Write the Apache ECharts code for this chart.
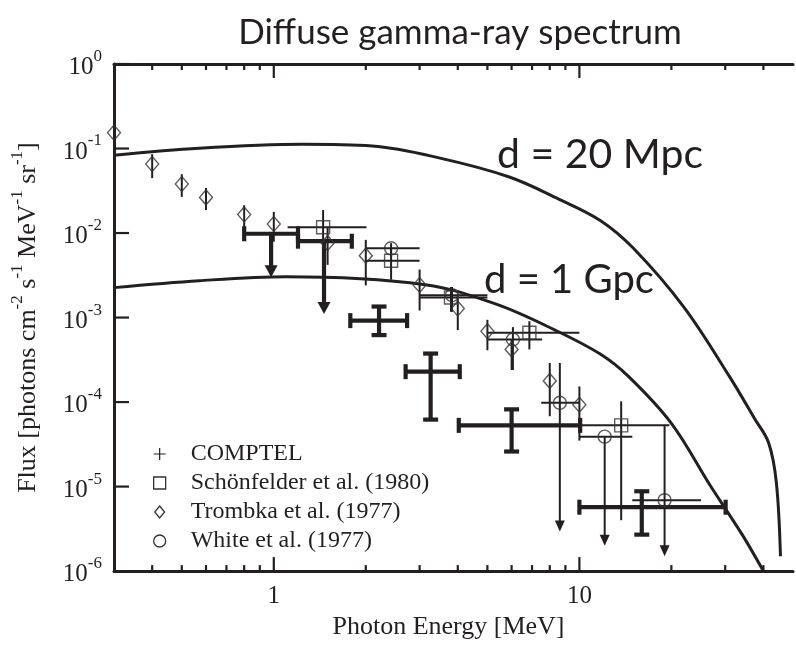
<!DOCTYPE html>
<html><head><meta charset="utf-8">
<script src="https://cdn.jsdelivr.net/npm/echarts@6/dist/echarts.min.js"></script>
<style>html,body{margin:0;padding:0;background:#fff}#c{width:796px;height:645px}</style>
</head><body><div id="c"></div>
<script>
// ---- data ----
const xMajorTicks = [1, 10];
const xMinorTicks = [0.4,0.5,0.6,0.7,0.8,0.9,2,3,4,5,6,7,8,9,20,30,40];
const yMajorTicks = [1e-6,1e-5,1e-4,1e-3,1e-2,1e-1,1];
const xRange = [0.3, 50];
const yRange = [1e-6, 1];

// rows: [E, F, Elo, Ehi, Flo, Fhi, upperLimit]
const comptel = [
  [0.98, 0.0098, 0.80, 1.20, 0.0030, 0.0098, 1],
  [1.46, 0.0080, 1.20, 1.80, 0.0011, 0.0080, 1],
  [2.21, 9.2e-4, 1.78, 2.73, 6.2e-4, 1.35e-3, 0],
  [3.26, 2.29e-4, 2.70, 4.06, 6.2e-5, 3.75e-4, 0],
  [6.0, 5.3e-5, 4.03, 10.06, 2.6e-5, 8.2e-5, 0],
  [16.0, 5.7e-6, 10.0, 30.1, 2.7e-6, 8.8e-6, 0]
];
const schoenfelder = [
  [1.45, 0.0117, 1.11, 2.01, 0.0085, 0.0187, 0],
  [2.42, 0.0047, 2.0, 3.0, 0.0028, 0.0066, 0],
  [3.80, 0.00173, 3.0, 5.0, 0.00117, 0.0023, 0],
  [6.86, 6.6e-4, 5.0, 10.0, 4.2e-4, 9.05e-4, 0],
  [13.7, 5.3e-5, 10.0, 19.7, 4.0e-6, 1.02e-4, 0]
];
const trombka = [
  [0.30, 0.154, 0.30, 0.30, 0.154, 0.154, 0],
  [0.40, 0.0655, 0.40, 0.40, 0.0446, 0.0857, 0],
  [0.50, 0.038, 0.50, 0.50, 0.0268, 0.0497, 0],
  [0.60, 0.0264, 0.60, 0.60, 0.0187, 0.0341, 0],
  [0.80, 0.0166, 0.80, 0.80, 0.011, 0.0213, 0],
  [1.0, 0.0128, 1.0, 1.0, 0.0079, 0.0178, 0],
  [1.5, 0.0076, 1.5, 1.5, 0.0042, 0.0118, 0],
  [2.0, 0.0054, 2.0, 2.0, 0.0024, 0.0083, 0],
  [3.0, 0.00243, 3.0, 3.0, 0.00121, 0.0037, 0],
  [4.0, 0.00128, 4.0, 4.0, 0.00071, 0.00181, 0],
  [5.0, 6.9e-4, 5.0, 5.0, 4.1e-4, 9.4e-4, 0],
  [6.0, 4.2e-4, 6.0, 6.0, 2.4e-4, 5.5e-4, 0],
  [8.0, 1.78e-4, 8.0, 8.0, 6.8e-5, 2.9e-4, 0],
  [10.0, 9.3e-5, 10.0, 10.0, 3.5e-5, 1.53e-4, 0]
];
const white = [
  [2.42, 0.0066, 2.0, 3.0, 0.0052, 0.0076, 0],
  [3.83, 0.00184, 3.0, 5.0, 0.00117, 0.0023, 0],
  [6.06, 5.5e-4, 5.0, 7.55, 2.4e-4, 7.7e-4, 0],
  [8.63, 9.8e-5, 7.5, 10.0, 2.95e-6, 2.9e-4, 1],
  [12.1, 3.9e-5, 10.0, 14.9, 2.0e-6, 3.9e-5, 1],
  [19.0, 6.9e-6, 14.9, 25.0, 1.5e-6, 5.3e-5, 1]
];
const curve20Mpc = [
  [0.3, 0.0835],[0.57, 0.101],[1.24, 0.112],[2.1, 0.107],[3.5, 0.077],[5.9, 0.046],
  [8.5, 0.0255],[11.7, 0.0141],[15.0, 0.00664],[22.0, 0.00132],[31.0, 2.0e-4],
  [37.5, 6.3e-5],[41.6, 3.3e-5],[44.1, 1.12e-5],[45.5, 1.5e-6]
];
const curve1Gpc = [
  [0.3, 0.00226],[0.57, 0.00273],[1.1, 0.00304],[3.13, 0.00245],[5.37, 0.00143],
  [8.33, 7.1e-4],[11.7, 3.7e-4],[14.5, 2.0e-4],[20.0, 5.6e-5],[26.8, 1.03e-5],
  [34.1, 2.7e-6],[40.0, 1.0e-6]
];
const seriesNames = ['COMPTEL','Schönfelder et al. (1980)','Trombka et al. (1977)','White et al. (1977)'];

// ---- style ----
const ink = '#231f20';
const serif = '"Liberation Serif","DejaVu Serif",serif';
const sans = 'Lato,"Open Sans",sans-serif';

const chart = echarts.init(document.getElementById('c'), null, {renderer:'canvas'});

function tickSeries(data, kind, len){
  return {
    type:'custom', silent:true, z:5, clip:false,
    data: data,
    encode:{x:0,y:1},
    renderItem: function(params, api){
      const p = api.coord([api.value(0), api.value(1)]);
      let s;
      if (kind==='bottom') s={x1:p[0],y1:p[1],x2:p[0],y2:p[1]-len};
      else if (kind==='top') s={x1:p[0],y1:p[1],x2:p[0],y2:p[1]+len};
      else s={x1:p[0],y1:p[1],x2:p[0]+len,y2:p[1]};
      return {type:'line', shape:s, style:{stroke:ink, lineWidth:2.2}};
    }
  };
}

function errSeries(name, rows, lw, cap, headW, headH){
  return {
    name:name, type:'custom', z:3, clip:false,
    data: rows,
    encode:{x:0,y:1},
    renderItem: function(params, api){
      const E=api.value(0),F=api.value(1),Elo=api.value(2),Ehi=api.value(3),
            Flo=api.value(4),Fhi=api.value(5),ul=api.value(6);
      const l=api.coord([Elo,F]), r=api.coord([Ehi,F]),
            t=api.coord([E,Fhi]), b=api.coord([E,Flo]);
      const st={stroke:ink, lineWidth:lw, lineCap:'butt'};
      const ch=[];
      if (Ehi>Elo) ch.push({type:'line',shape:{x1:l[0],y1:l[1],x2:r[0],y2:r[1]},style:st});
      if (Fhi>Flo){
        const yb = ul ? b[1]-headH+1 : b[1];
        ch.push({type:'line',shape:{x1:t[0],y1:t[1],x2:b[0],y2:yb},style:st});
      }
      if (cap){
        if (Ehi>Elo){
          ch.push({type:'line',shape:{x1:l[0],y1:l[1]-cap/2,x2:l[0],y2:l[1]+cap/2},style:st});
          ch.push({type:'line',shape:{x1:r[0],y1:r[1]-cap/2,x2:r[0],y2:r[1]+cap/2},style:st});
        }
        if (!ul){
          ch.push({type:'line',shape:{x1:t[0]-cap/2,y1:t[1],x2:t[0]+cap/2,y2:t[1]},style:st});
          ch.push({type:'line',shape:{x1:b[0]-cap/2,y1:b[1],x2:b[0]+cap/2,y2:b[1]},style:st});
        }
      }
      if (ul){
        ch.push({type:'polygon',shape:{points:[[b[0]-headW/2,b[1]-headH],[b[0]+headW/2,b[1]-headH],[b[0],b[1]]]},style:{fill:ink}});
      }
      return {type:'group', children:ch};
    }
  };
}

function markSeries(name, rows, symbol, size){
  return {
    name:name, type:'scatter', z:4,
    data: rows.map(r=>[r[0],r[1]]),
    symbol: symbol, symbolSize: size,
    itemStyle:{color:'rgba(0,0,0,0)', borderColor:'#333', borderWidth:1.4},
    emphasis:{disabled:true}
  };
}

function curveSeries(name, pts){
  return {
    name:name, type:'line', data:pts, smooth:0.35, showSymbol:false, z:2,
    lineStyle:{color:ink, width:3}, clip:true, silent:true
  };
}

const supLabel = v => {
  const e = Math.round(Math.log10(v));
  if (Math.abs(Math.log10(v)-e) > 1e-6) return '';
  return '{m|10}{e|' + e + '}';
};

const hollow = {color:'rgba(0,0,0,0)', borderColor:'#333', borderWidth:1.3};

const option = {
  animation:false,
  backgroundColor:'#fff',
  title:{
    text:'Diffuse gamma-ray spectrum', left:455, top:10, textAlign:'center',
    textStyle:{fontFamily:sans, fontSize:35, fontWeight:'normal', color:ink}
  },
  grid:{left:114, top:64, width:700, height:513, show:false},
  xAxis:[{
    type:'log', logBase:10, min:xRange[0], max:xRange[1],
    name:'Photon Energy [MeV]', nameLocation:'middle', nameGap:40,
    nameTextStyle:{fontFamily:serif, fontSize:26, color:ink, padding:[0,10,0,0]},
    axisLine:{show:true, lineStyle:{color:ink, width:3}},
    axisTick:{show:false}, splitLine:{show:false}, minorTick:{show:false},
    axisLabel:{
      margin:13, fontFamily:serif, fontSize:25, color:ink,
      formatter: v => {
        const e = Math.log10(v);
        if (Math.abs(e-Math.round(e))>1e-6) return '';
        return String(Math.round(v));
      }
    }
  },{
    type:'log', logBase:10, min:xRange[0], max:xRange[1], position:'top',
    axisLine:{show:true, lineStyle:{color:ink, width:3}},
    axisTick:{show:false}, splitLine:{show:false}, axisLabel:{show:false}
  }],
  yAxis:{
    type:'log', logBase:10, min:yRange[0], max:yRange[1],
    name:'{n|Flux [photons cm}{s|-2}{n| s}{s|-1}{n| MeV}{s|-1}{n| sr}{s|-1}{n|]}',
    nameLocation:'middle', nameRotate:90, nameGap:73,
    nameTextStyle:{
      color:ink,
      rich:{
        n:{fontFamily:serif, fontSize:26, color:ink, lineHeight:32, verticalAlign:'bottom'},
        s:{fontFamily:serif, fontSize:17, color:ink, lineHeight:32, verticalAlign:'top'}
      }
    },
    axisLine:{show:true, lineStyle:{color:ink, width:3}},
    axisTick:{show:false}, splitLine:{show:false},
    axisLabel:{
      margin:12, formatter: supLabel,
      rich:{
        m:{fontFamily:serif, fontSize:25, color:ink, lineHeight:32, verticalAlign:'bottom'},
        e:{fontFamily:serif, fontSize:17, color:ink, lineHeight:32, verticalAlign:'top'}
      }
    }
  },
  legend:{
    orient:'vertical', left:148, top:437, itemWidth:12, itemHeight:12, itemGap:5,
    selectedMode:false,
    textStyle:{fontFamily:serif, fontSize:24, color:ink, lineHeight:24, padding:[0,0,0,20]},
    data:[
      {name:seriesNames[0], icon:'path://M4.5,0h1v4.5h4.5v1h-4.5v4.5h-1v-4.5h-4.5v-1h4.5z', itemStyle:{color:ink, borderWidth:0}},
      {name:seriesNames[1], icon:'rect', itemStyle:hollow},
      {name:seriesNames[2], icon:'path://M4.5,0L9,5.5L4.5,11L0,5.5Z', itemStyle:hollow},
      {name:seriesNames[3], icon:'circle', itemStyle:hollow}
    ]
  },
  graphic:[
    {type:'text', left:497, top:134, style:{text:'d = 20 Mpc', fontFamily:sans, fontSize:41, fill:ink}},
    {type:'text', left:484, top:260, style:{text:'d = 1 Gpc', fontFamily:sans, fontSize:40, fill:ink}}
  ],
  series:[
    curveSeries('d = 20 Mpc', curve20Mpc),
    curveSeries('d = 1 Gpc', curve1Gpc),
    tickSeries(xMajorTicks.map(v=>[v,yRange[0]]), 'bottom', 14),
    tickSeries(xMinorTicks.map(v=>[v,yRange[0]]), 'bottom', 6),
    tickSeries(xMajorTicks.map(v=>[v,yRange[1]]), 'top', 14),
    tickSeries(xMinorTicks.map(v=>[v,yRange[1]]), 'top', 6),
    tickSeries(yMajorTicks.map(v=>[xRange[0],v]), 'left', 15),
    errSeries(seriesNames[0], comptel, 4.2, 15, 13, 12),
    errSeries(seriesNames[1], schoenfelder, 2, 0, 10, 11),
    errSeries(seriesNames[2], trombka, 2, 0, 10, 11),
    errSeries(seriesNames[3], white, 2, 0, 10, 11),
    markSeries(seriesNames[1], schoenfelder, 'rect', 13),
    markSeries(seriesNames[2], trombka, 'diamond', [13,15]),
    markSeries(seriesNames[3], white, 'circle', 13)
  ]
};
chart.setOption(option);
</script>
</body></html>
